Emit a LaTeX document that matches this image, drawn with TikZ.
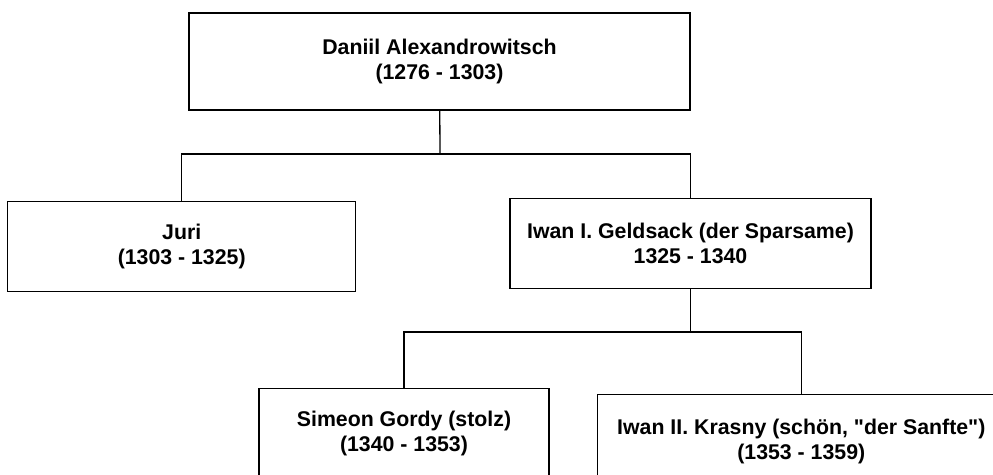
\documentclass[tikz,border=0pt]{standalone}
\usepackage{fontspec}
\setmainfont{Liberation Sans}[Ligatures=TeXOff]
\usetikzlibrary{positioning}
\tikzstyle{ruler} = [rectangle, draw, fill=white, line width=1.3pt,
    align=center, font=\bfseries\fontsize{21.3pt}{25pt}\selectfont,
    minimum height=90pt, inner sep=0pt]
\tikzstyle{branch} = [draw, line width=1.3pt]

\begin{document}
\begin{tikzpicture}[x=1pt, y=-1pt]
    \clip (0,0) rectangle (993,474);
    \node[ruler, minimum width=501pt, minimum height=97pt] (daniil) at (439.5,61.5)
        {Daniil Alexandrowitsch\\(1276 - 1303)};
    \node[ruler, minimum width=361pt, below=87pt of daniil.south, anchor=north, xshift=251pt] (iwanI)
        {Iwan I. Geldsack (der Sparsame)\\1325 - 1340};
    \node[ruler, minimum width=348pt, left=153pt of iwanI, yshift=-3pt] (juri)
        {Juri\\(1303 - 1325)};
    \node[ruler, minimum width=290pt, below=99pt of iwanI.south, anchor=north, xshift=-286.5pt] (simeon)
        {Simeon Gordy (stolz)\\(1340 - 1353)};
    \node[ruler, minimum width=408pt, minimum height=94pt, right=47pt of simeon, yshift=-8pt] (krasny)
        {Iwan II. Krasny (schön, "der Sanfte")\\(1353 - 1359)};

    \coordinate (fork1) at (440,154);
    \coordinate (fork2) at (690.5,332);

    \path[branch] (daniil) -- (fork1);
    \path[branch] (fork1) -| (juri);
    \path[branch] (fork1) -| (iwanI);

    \path[branch] (iwanI) -- (fork2);
    \path[branch] (fork2) -| (simeon);
    \path[branch] (fork2) -| (krasny);
\end{tikzpicture}
\end{document}
